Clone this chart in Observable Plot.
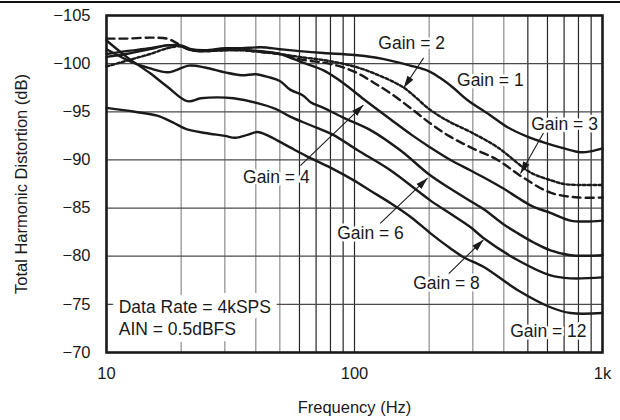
<!DOCTYPE html>
<html><head><meta charset="utf-8">
<script src="https://cdn.jsdelivr.net/npm/d3@7"></script>
<script src="https://cdn.jsdelivr.net/npm/@observablehq/plot@0.6"></script>
<style>
html,body{margin:0;padding:0;background:#fff;}
#wrap{position:relative;width:620px;height:420px;overflow:hidden;}
#topline{position:absolute;left:0;top:1px;width:620px;border-top:2px solid #111;}
</style></head><body>
<div id="wrap"><div id="topline"></div></div>
<script>
// ---- data (frequency in Hz, THD in dB) ----
const gain1Freq = [10, 12, 15, 17.5, 20, 22, 25, 30, 35, 42, 50, 60, 75, 100, 130, 168, 200, 222, 250, 286, 350, 414, 500, 600, 700, 815, 900, 1000];
const gain1Thd  = [-100.7, -101.0, -101.5, -101.9, -101.9, -101.5, -101.4, -101.6, -101.6, -101.7, -101.5, -101.3, -101.1, -100.9, -100.5, -99.8, -99.2, -98.5, -97.5, -96.2, -94.7, -93.4, -92.4, -91.7, -91.2, -90.8, -90.9, -91.2];

const gain2Freq = [10, 12.8, 15, 17.6, 20, 22, 25, 30, 35, 42, 50, 60, 78, 100, 125, 158, 202, 240, 294, 378, 512, 617, 700, 800, 1000];
const gain2Thd  = [-99.7, -100.5, -101.0, -101.6, -101.8, -101.4, -101.3, -101.4, -101.4, -101.2, -101.0, -100.7, -100.3, -99.7, -98.8, -97.5, -95.2, -94.0, -92.9, -91.3, -88.7, -87.9, -87.5, -87.4, -87.4];

const gain3Freq = [10, 12, 15, 17.5, 19.3, 21.2, 24, 30, 35, 42, 50, 62, 75, 88, 103, 120, 140, 170, 202, 240, 294, 378, 470, 617, 800, 1000];
const gain3Thd  = [-102.6, -102.6, -102.7, -102.6, -102.1, -101.5, -101.3, -101.4, -101.4, -101.2, -101.0, -100.4, -100.1, -99.7, -99.0, -98.0, -96.9, -95.3, -93.8, -92.5, -91.3, -90.0, -88.3, -86.6, -86.1, -86.1];

const gain4Freq = [10, 12, 15, 17.5, 20, 22, 25, 30, 35, 42, 50, 62, 75, 90, 109, 140, 170, 202, 240, 294, 331, 400, 454, 520, 617, 743, 850, 1000];
const gain4Thd  = [-101.0, -101.3, -101.6, -101.9, -101.8, -101.4, -101.3, -101.4, -101.4, -101.3, -101.0, -100.1, -99.3, -98.0, -96.3, -94.2, -92.6, -91.3, -90.1, -88.9, -88.2, -87.0, -86.1, -85.2, -84.5, -83.7, -83.6, -83.7];

const gain6Freq = [10, 12.8, 15, 17.6, 19, 21.5, 25, 30, 35, 40, 45, 50, 55, 62, 66.5, 75, 90, 116, 153, 202, 244, 294, 331, 400, 454, 530, 617, 743, 1000];
const gain6Thd  = [-101.5, -100.1, -99.5, -99.1, -99.3, -99.8, -99.6, -99.1, -98.8, -98.9, -98.6, -98.2, -97.3, -96.7, -96.0, -95.4, -94.4, -93.1, -91.0, -88.4, -87.0, -85.7, -84.9, -83.3, -82.4, -81.4, -80.6, -80.1, -80.1];

const gain8Freq = [10, 12.2, 15, 17.6, 21.2, 24, 28, 32.5, 40.6, 48, 55, 66.5, 82, 103, 140, 202, 244, 294, 331, 454, 617, 743, 1000];
const gain8Thd  = [-102.4, -100.6, -99.0, -97.6, -96.1, -96.4, -96.5, -96.4, -95.9, -95.3, -94.5, -93.6, -92.6, -91.0, -88.9, -85.8, -84.4, -83.0, -81.9, -79.6, -78.0, -77.7, -77.8];

const gain12Freq = [10, 13, 16, 18.5, 21, 25, 30, 33, 37, 40.6, 45, 49, 55, 64, 80, 99, 116, 140, 170, 202, 244, 275, 331, 454, 617, 743, 1000];
const gain12Thd  = [-95.4, -95.0, -94.6, -93.9, -93.2, -92.8, -92.5, -92.3, -92.6, -92.9, -92.5, -92.0, -91.3, -90.4, -89.2, -87.9, -86.8, -85.5, -84.0, -82.4, -80.8, -79.9, -78.9, -76.5, -74.7, -74.1, -74.1];

// ---- ticks and grid ----
const xTicks = [10, 100, 1000];
const xTickLabels = ["10", "100", "1k"];
const yTicks = [-105, -100, -95, -90, -85, -80, -75, -70];
const yTickLabels = ["\u2212105", "\u2212100", "\u221295", "\u221290", "\u221285", "\u221280", "\u221275", "\u221270"];
const lightGridFreq = [20, 30, 40, 50, 200, 300, 400];
const darkGridFreq = [60, 70, 80, 90, 100, 500, 600, 700, 800, 900];
const gridThd = [-100, -95, -90, -85, -80, -75];

// ---- annotations ----
const gainLabels = ["Gain = 2", "Gain = 1", "Gain = 3", "Gain = 4", "Gain = 6", "Gain = 8", "Gain = 12"];
const gainLabelFreq = [170, 353, 703, 48.4, 116, 235, 605];
const gainLabelThd = [-102.1, -98.3, -93.7, -88.2, -82.4, -77.2, -72.2];

const arrowFromFreq = [190, 578, 60.5, 127, 240];
const arrowFromThd = [-100.6, -92.8, -89.4, -83.4, -78.2];
const arrowToFreq = [158, 467, 108.6, 197, 331];
const arrowToThd = [-97.5, -88.6, -95.7, -88.1, -81.7];

const noteLines = ["Data Rate = 4kSPS", "AIN = 0.5dBFS"];
const noteFreq = [11.2, 11.2];
const noteThd = [-74.7, -72.4];

const seriesList = [
  {f: gain1Freq, v: gain1Thd, dash: null},
  {f: gain2Freq, v: gain2Thd, dash: "3,2.3"},
  {f: gain3Freq, v: gain3Thd, dash: "8,5"},
  {f: gain4Freq, v: gain4Thd, dash: null},
  {f: gain6Freq, v: gain6Thd, dash: null},
  {f: gain8Freq, v: gain8Thd, dash: null},
  {f: gain12Freq, v: gain12Thd, dash: null}
];

const ink = "#1a1a1a";
const font = "'Liberation Sans', Arial, Helvetica, sans-serif";

function filledArrow(color) {
  const m = d3.create("svg:marker")
    .attr("viewBox", "-12 -6 12 12")
    .attr("markerWidth", 12)
    .attr("markerHeight", 12)
    .attr("markerUnits", "userSpaceOnUse")
    .attr("orient", "auto")
    .attr("fill", color)
    .attr("stroke", "none");
  m.append("path").attr("d", "M-12,-3.6L0,0L-12,3.6Z");
  return m.node();
}

function build(marker) {
  const lineMarks = seriesList.map(s => {
    const rows = s.f.map((f, i) => ({f, v: s.v[i]}));
    const opts = {x: "f", y: "v", stroke: ink, strokeWidth: 2.4, curve: "catmull-rom"};
    if (s.dash) opts.strokeDasharray = s.dash;
    return Plot.line(rows, opts);
  });
  const idx = arrowFromFreq.map((_, i) => i);
  return Plot.plot({
    width: 620, height: 420,
    marginLeft: 106, marginRight: 18, marginTop: 15, marginBottom: 68,
    style: {fontFamily: font, fontSize: "16px", color: ink, background: "white", overflow: "visible"},
    x: {type: "log", domain: [10, 1000]},
    y: {domain: [-105, -70], reverse: true},
    marks: [
      Plot.ruleX(lightGridFreq, {stroke: "#8c8c8c", strokeWidth: 1.2}),
      Plot.ruleX(darkGridFreq, {stroke: "#262626", strokeWidth: 1.2}),
      Plot.ruleY(gridThd, {stroke: "#4a4a4a", strokeWidth: 1.2}),
      Plot.text(noteLines, {x: noteFreq, y: noteThd, text: d => d, textAnchor: "start", fontSize: 17.5, fill: ink, stroke: "white", strokeWidth: 14, paintOrder: "stroke"}),
      ...lineMarks,
      Plot.link(idx, {x1: arrowFromFreq, y1: arrowFromThd, x2: arrowToFreq, y2: arrowToThd, stroke: ink, strokeWidth: 1.1, markerEnd: marker}),
      Plot.text(gainLabels, {x: gainLabelFreq, y: gainLabelThd, text: d => d, fontSize: 17.5, fill: ink, stroke: "white", strokeWidth: 5, paintOrder: "stroke"}),
      Plot.frame({stroke: ink, strokeWidth: 2.6}),
      Plot.axisX({ticks: xTicks, tickFormat: (d) => xTickLabels[xTicks.indexOf(d)], tickSize: 0, tickPadding: 15, fontSize: 16.5,
        label: "Frequency (Hz)", labelAnchor: "center", labelArrow: "none", labelOffset: 60}),
      Plot.axisY({ticks: yTicks, tickFormat: (d) => yTickLabels[yTicks.indexOf(d)], tickSize: 0, tickPadding: 16, fontSize: 16.5,
        label: "Total Harmonic Distortion (dB)", labelAnchor: "center", labelArrow: "none", labelOffset: 91})
    ]
  });
}

let chart;
try { chart = build(filledArrow); } catch (e) { chart = build("arrow"); }
document.getElementById("wrap").appendChild(chart);
</script>
</body></html>
